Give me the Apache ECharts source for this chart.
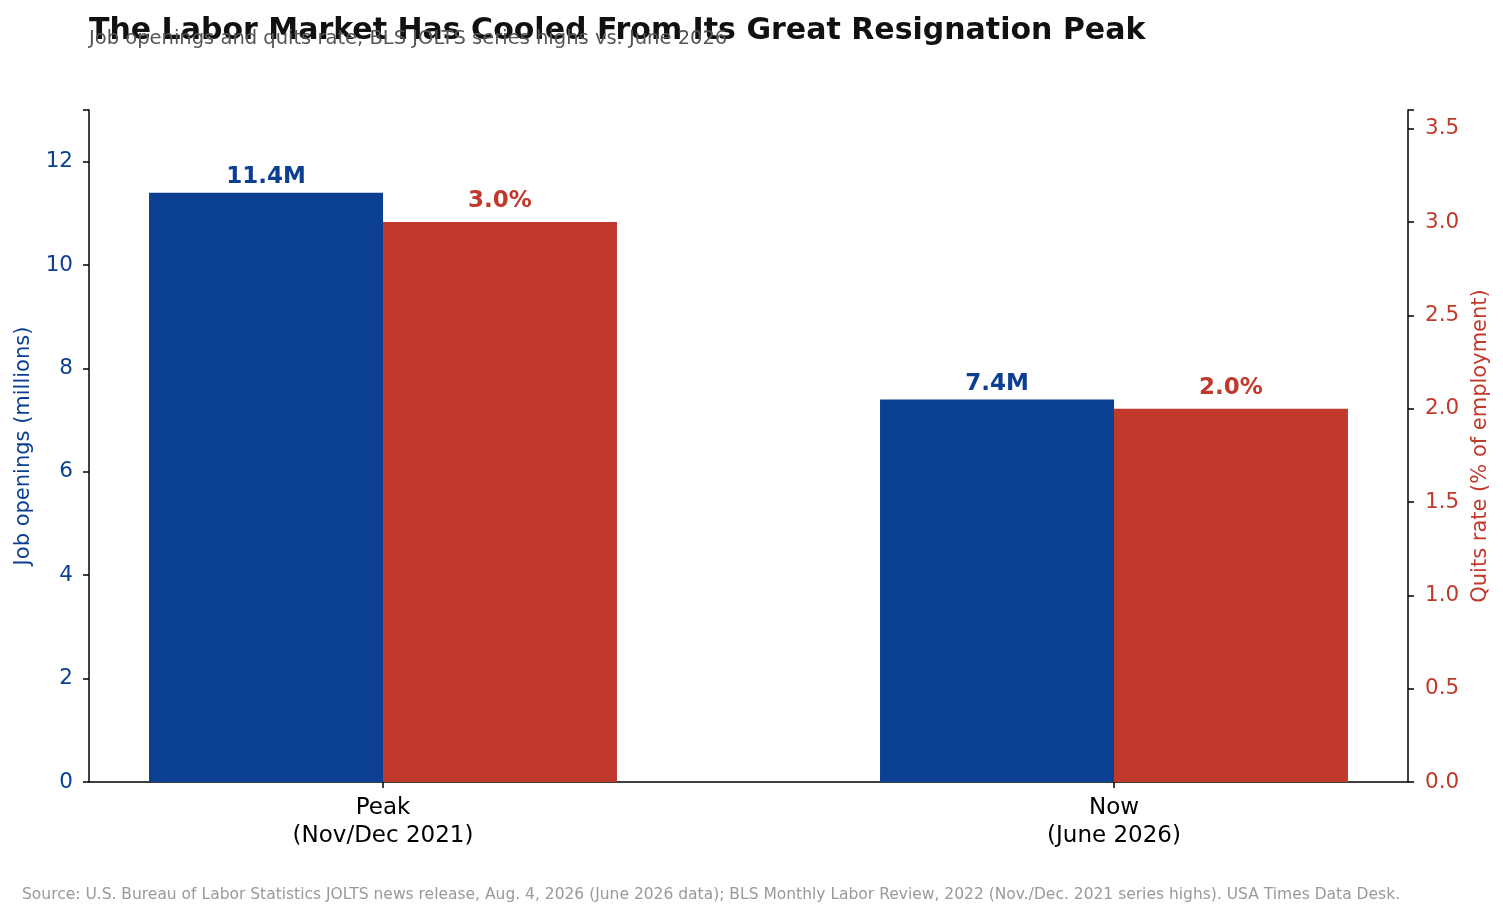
<!DOCTYPE html>
<html>
<head>
    <meta charset="utf-8">
    <title>JOLTS peak vs now</title>
    <script src="https://cdn.jsdelivr.net/npm/echarts@6/dist/echarts.min.js"></script>
    <style>
        html, body { margin: 0; padding: 0; background: #fff; }
        #chart { width: 1503px; height: 917px; }
    </style>
</head>
<body>
    <div id="chart"></div>
    <script type="text/javascript">
        // data
        var periods = ['Peak\n(Nov/Dec 2021)', 'Now\n(June 2026)'];
        var periodPos = [0, 1];
        var openings = [11.4, 7.4];      // millions
        var quits = [3.0, 2.0];          // % of employment
        var openTicks = [0, 2, 4, 6, 8, 10, 12];
        var quitTicks = [0, 0.5, 1.0, 1.5, 2.0, 2.5, 3.0, 3.5];

        var BLUE = '#0b3f92';
        var RED = '#c0392b';
        var FONT = 'DejaVu Sans';
        var offset = 0.16;

        var chart = echarts.init(document.getElementById('chart'));

        var blueData = [], redData = [];
        for (var i = 0; i < periodPos.length; i++) {
            blueData.push([periodPos[i] - offset, openings[i]]);
            redData.push([periodPos[i] + offset, quits[i]]);
        }

        var option = {
            animation: false,
            textStyle: { fontFamily: FONT },
            title: [
                {
                    text: 'The Labor Market Has Cooled From Its Great Resignation Peak',
                    left: 84, top: 11,
                    textStyle: { fontFamily: FONT, fontSize: 30, fontWeight: 'bold', color: '#111' }
                },
                {
                    text: 'Job openings and quits rate, BLS JOLTS series highs vs. June 2026',
                    left: 84, top: 24,
                    textStyle: { fontFamily: FONT, fontSize: 19.5, fontWeight: 'normal', color: '#555' }
                },
                {
                    text: 'Source: U.S. Bureau of Labor Statistics JOLTS news release, Aug. 4, 2026 (June 2026 data); BLS Monthly Labor Review, 2022 (Nov./Dec. 2021 series highs). USA Times Data Desk.',
                    left: 17, top: 882,
                    textStyle: { fontFamily: FONT, fontSize: 15.5, fontWeight: 'normal', color: '#999' }
                }
            ],
            grid: { left: 89, right: 95, top: 110, bottom: 135, containLabel: false, outerBoundsMode: 'none' },
            xAxis: {
                type: 'value',
                min: -0.4022,
                max: 1.4022,
                splitLine: { show: false },
                axisLine: { show: true, onZero: false, lineStyle: { color: '#000', width: 1.5 } },
                axisTick: { show: true, customValues: periodPos, length: 6, lineStyle: { color: '#000', width: 1.5 } },
                axisLabel: {
                    customValues: periodPos,
                    fontSize: 23, color: '#000', lineHeight: 28, margin: 12,
                    formatter: function (v) {
                        var idx = periodPos.indexOf(Math.round(v));
                        return idx >= 0 ? periods[idx] : '';
                    }
                }
            },
            yAxis: [
                {
                    type: 'value', min: 0, max: 13, interval: 2,
                    name: 'Job openings (millions)',
                    nameLocation: 'middle', nameGap: 55, nameRotate: 90,
                    nameTextStyle: { color: BLUE, fontSize: 21 },
                    splitLine: { show: false },
                    axisLine: { show: true, onZero: false, lineStyle: { color: '#000', width: 1.5 } },
                    axisTick: { show: true, length: 6, lineStyle: { color: '#000', width: 1.5 } },
                    axisLabel: {
                        color: BLUE, fontSize: 21.5, margin: 16,
                        customValues: openTicks
                    }
                },
                {
                    type: 'value', min: 0, max: 3.6, interval: 0.5,
                    position: 'right',
                    name: 'Quits rate (% of employment)',
                    nameLocation: 'middle', nameGap: 59, nameRotate: 90,
                    nameTextStyle: { color: RED, fontSize: 21 },
                    splitLine: { show: false },
                    axisLine: { show: true, onZero: false, lineStyle: { color: '#000', width: 1.5 } },
                    axisTick: { show: true, length: 6, lineStyle: { color: '#000', width: 1.5 } },
                    axisLabel: {
                        color: RED, fontSize: 21.5, margin: 17,
                        customValues: quitTicks,
                        formatter: function (v) { return v.toFixed(1); }
                    }
                }
            ],
            series: [
                {
                    name: 'Job openings',
                    type: 'bar',
                    yAxisIndex: 0,
                    data: blueData,
                    barWidth: 234,
                    barGap: '-100%',
                    itemStyle: { color: BLUE },
                    label: {
                        show: true, position: 'top', distance: 4,
                        color: BLUE, fontSize: 23, fontWeight: 'bold',
                        formatter: function (p) { return p.value[1].toFixed(1) + 'M'; }
                    }
                },
                {
                    name: 'Quits rate',
                    type: 'bar',
                    yAxisIndex: 1,
                    data: redData,
                    barWidth: 234,
                    barGap: '-100%',
                    itemStyle: { color: RED },
                    label: {
                        show: true, position: 'top', distance: 9,
                        color: RED, fontSize: 23, fontWeight: 'bold',
                        formatter: function (p) { return p.value[1].toFixed(1) + '%'; }
                    }
                }
            ]
        };

        chart.setOption(option);
    </script>
</body>
</html>
